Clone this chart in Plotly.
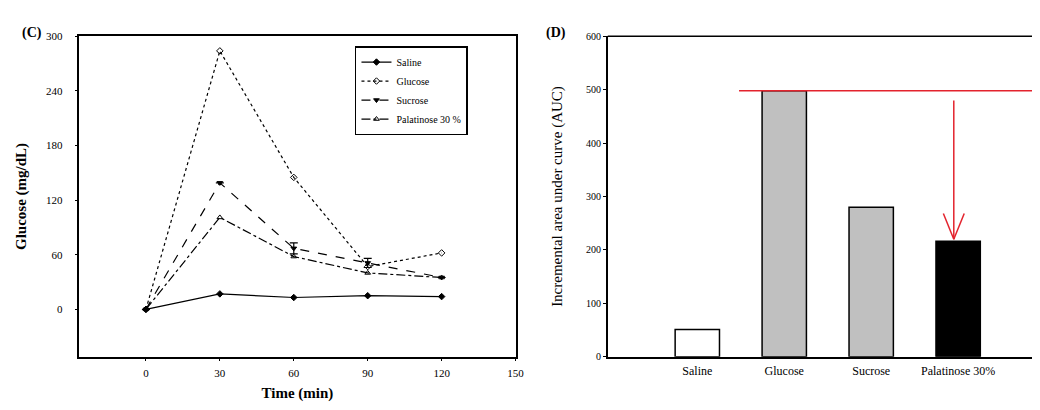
import plotly.graph_objects as go

# ---- data ----
time_min = [0, 30, 60, 90, 120]
saline = [0, 17, 13, 15, 14]
glucose = [0, 284, 145, 47, 62]
sucrose = [0, 139, 67, 51, 35]
palatinose = [0, 101, 58, 40, 35]
sucrose_err = [0, 0, 6, 5, 0]

auc_categories = ["Saline", "Glucose", "Sucrose", "Palatinose 30%"]
auc_values = [51, 498, 280, 216]
auc_colors = ["white", "#c0c0c0", "#c0c0c0", "black"]

x_ticks = [0, 30, 60, 90, 120, 150]
y_ticks_c = [0, 60, 120, 180, 240, 300]
y_ticks_d = [0, 100, 200, 300, 400, 500, 600]

FONT = "Liberation Serif"
W, H = 1040, 410

fig = go.Figure()

series = [
    ("Saline", saline, "solid", "diamond", None),
    ("Glucose", glucose, "dot", "diamond-open", None),
    ("Sucrose", sucrose, "dash", "triangle-down", sucrose_err),
    ("Palatinose 30 %", palatinose, "dashdot", "triangle-up-open", None),
]
for name, vals, dash, sym, err in series:
    fig.add_trace(go.Scatter(
        x=time_min, y=vals, name=name, mode="lines+markers",
        line=dict(color="black", width=1.2, dash=dash),
        marker=dict(symbol=sym, size=5, color="black", line=dict(color="black", width=1)),
        error_y=dict(type="data", array=err, color="black", thickness=1.2, width=4) if err else None,
        xaxis="x", yaxis="y",
    ))

fig.add_trace(go.Bar(
    x=list(range(len(auc_categories))), y=auc_values, width=0.51,
    marker=dict(color=auc_colors, line=dict(color="black", width=1.5)),
    showlegend=False, xaxis="x2", yaxis="y2",
))

ydom = [1 - 353 / H, 1 - 23 / H]
fig.update_layout(
    width=W, height=H, margin=dict(l=0, r=0, t=0, b=0),
    paper_bgcolor="white", plot_bgcolor="white",
    font=dict(family=FONT, color="black", size=11),
    xaxis=dict(domain=[72 / W, 512 / W], range=[-27, 150], tickvals=x_ticks,
               showline=True, mirror=True, linecolor="black", linewidth=1.5,
               ticks="outside", ticklen=3, tickcolor="black", showgrid=False, zeroline=False,
               ticklabelstandoff=2,
               title=dict(text="<b>Time (min)</b>", font=dict(size=15), standoff=10)),
    yaxis=dict(domain=ydom, range=[-52, 300], tickvals=y_ticks_c,
               showline=True, mirror=True, linecolor="black", linewidth=1.5,
               ticks="outside", ticklen=3, tickcolor="black", showgrid=False, zeroline=False,
               ticklabelstandoff=10,
               title=dict(text="<b>Glucose (mg/dL)</b>", font=dict(size=15), standoff=16)),
    xaxis2=dict(domain=[605 / W, 1.0], range=[-1.03, 3.93], tickvals=[0, 1, 2, 3],
                ticktext=auc_categories, showline=True, linecolor="black", linewidth=1.5,
                ticks="", showgrid=False, zeroline=False, anchor="y2",
                tickfont=dict(size=12), ticklabelstandoff=2),
    yaxis2=dict(domain=ydom, range=[0, 600], tickvals=y_ticks_d, anchor="x2",
                showline=True, linecolor="black", linewidth=1.5,
                ticks="outside", ticklen=3, tickcolor="black", showgrid=False, zeroline=False,
                tickfont=dict(size=10),
                title=dict(text="Incremental area under curve (AUC)", font=dict(size=15), standoff=20)),
    legend=dict(x=350 / W, y=1 - 33 / H, xanchor="left", yanchor="top",
                bordercolor="black", borderwidth=1.5, bgcolor="white",
                font=dict(size=10, family=FONT), tracegroupgap=0, itemwidth=30),
    bargap=0.49,
)

# top border of panel D
fig.add_shape(type="line", xref="paper", yref="paper", x0=605 / W, x1=1.0,
              y0=ydom[1], y1=ydom[1], line=dict(color="black", width=1.5))

# red reference line and arrow
red = "#e3232d"
fig.add_shape(type="line", xref="x2", yref="y2", x0=0.48, x1=3.93, y0=498, y1=498,
              line=dict(color=red, width=1.5))
fig.add_shape(type="line", xref="x2", yref="y2", x0=2.95, x1=2.95, y0=480, y1=220,
              line=dict(color=red, width=1.5))
fig.add_shape(type="line", xref="x2", yref="y2", x0=2.83, x1=2.95, y0=268, y1=220,
              line=dict(color=red, width=1.5))
fig.add_shape(type="line", xref="x2", yref="y2", x0=3.07, x1=2.95, y0=268, y1=220,
              line=dict(color=red, width=1.5))

fig.add_annotation(text="<b>(C)</b>", xref="paper", yref="paper", x=12 / W, y=1 - 20 / H,
                   xanchor="left", yanchor="middle", showarrow=False, font=dict(size=14))
fig.add_annotation(text="<b>(D)</b>", xref="paper", yref="paper", x=541 / W, y=1 - 20 / H,
                   xanchor="left", yanchor="middle", showarrow=False, font=dict(size=14))

fig.write_html("out.html")
